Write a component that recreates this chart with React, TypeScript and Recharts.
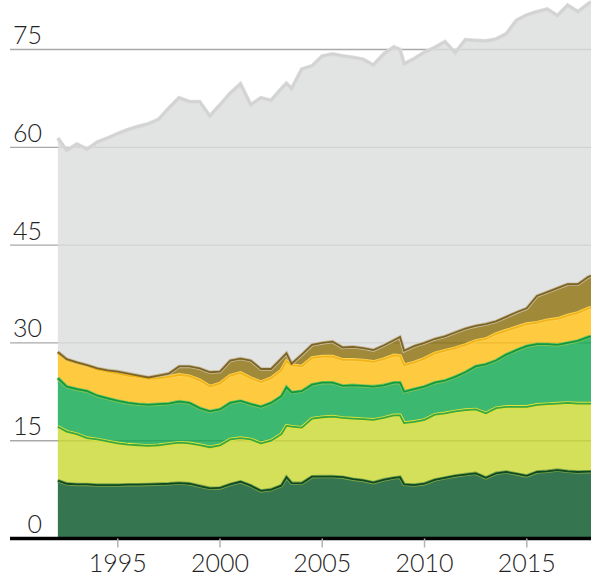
import React from 'react';
import { ComposedChart, Area, Line, XAxis, YAxis, CartesianGrid } from 'recharts';

// x positions (decimal years)
const years = [
  1992.07, 1992.5, 1993, 1993.5, 1994, 1994.5, 1995, 1995.5, 1996, 1996.5,
  1997, 1997.5, 1998, 1998.5, 1999, 1999.5, 2000, 2000.5, 2001, 2001.5,
  2002, 2002.5, 2003, 2003.25, 2003.5, 2004, 2004.5, 2005, 2005.5, 2006,
  2006.5, 2007, 2007.5, 2008, 2008.5, 2008.8, 2009, 2009.5, 2010, 2010.5,
  2011, 2011.5, 2012, 2012.5, 2013, 2013.5, 2014, 2014.5, 2015, 2015.5,
  2016, 2016.5, 2017, 2017.5, 2018, 2018.14,
];

// cumulative top of each band
const darkGreenTop = [
  8.87, 8.4, 8.3, 8.3, 8.2, 8.2, 8.2, 8.25, 8.25, 8.3,
  8.35, 8.4, 8.5, 8.4, 8.05, 7.7, 7.75, 8.3, 8.7, 8.1,
  7.3, 7.5, 8.1, 9.4, 8.5, 8.47, 9.48, 9.5, 9.5, 9.4,
  9.1, 8.9, 8.56, 9.0, 9.3, 9.4, 8.3, 8.2, 8.4, 9.0,
  9.3, 9.6, 9.8, 10.0, 9.3, 10.0, 10.2, 9.9, 9.6, 10.2,
  10.3, 10.5, 10.3, 10.2, 10.25, 10.25,
];
const limeTop = [
  17.15, 16.4, 16.0, 15.4, 15.2, 14.9, 14.6, 14.4, 14.3, 14.2,
  14.3, 14.5, 14.7, 14.6, 14.34, 14.0, 14.3, 15.2, 15.4, 15.2,
  14.6, 15.0, 16.0, 17.3, 17.15, 17.0, 18.4, 18.6, 18.7, 18.5,
  18.4, 18.3, 18.2, 18.5, 18.9, 18.9, 17.7, 17.9, 18.2, 19.0,
  19.2, 19.5, 19.7, 19.8, 19.2, 20.0, 20.2, 20.2, 20.2, 20.5,
  20.6, 20.7, 20.8, 20.7, 20.7, 20.7,
];
const greenTop = [
  24.6, 23.3, 22.9, 22.6, 21.9, 21.5, 21.1, 20.8, 20.6, 20.5,
  20.6, 20.7, 21.0, 20.8, 20.0, 19.5, 19.8, 20.8, 21.1, 20.6,
  20.2, 20.8, 21.8, 23.2, 22.4, 22.6, 23.6, 23.9, 23.9, 23.4,
  23.5, 23.4, 23.3, 23.5, 23.9, 23.9, 22.5, 22.9, 23.3, 23.9,
  24.2, 24.8, 25.5, 26.4, 26.7, 27.3, 28.2, 28.9, 29.5, 29.8,
  29.8, 29.7, 30.0, 30.3, 30.9, 31.0,
];
const yellowTop = [
  28.5, 27.4, 26.9, 26.5, 25.9, 25.6, 25.3, 25.0, 24.8, 24.5,
  24.6, 24.8, 25.1, 24.9, 24.3, 23.3, 23.8, 25.0, 25.4, 24.6,
  24.0, 24.6, 25.8, 27.2, 26.6, 26.4, 27.7, 27.9, 27.9, 27.4,
  27.4, 27.3, 27.1, 27.5, 28.1, 28.0, 26.6, 27.0, 27.6, 28.4,
  28.8, 29.2, 29.7, 30.3, 30.6, 31.4, 31.9, 32.4, 32.9, 33.1,
  33.5, 33.7, 34.2, 34.6, 35.3, 35.4,
];
const brownTop = [
  28.6, 27.5, 27.0, 26.6, 26.1, 25.8, 25.6, 25.3, 25.0, 24.7,
  25.0, 25.3, 26.4, 26.4, 26.1, 25.5, 25.6, 27.3, 27.6, 27.3,
  26.0, 26.0, 27.6, 28.4, 26.8, 28.2, 29.7, 30.0, 30.2, 29.3,
  29.4, 29.2, 28.9, 29.6, 30.4, 30.9, 28.8, 29.5, 30.0, 30.6,
  31.0, 31.6, 32.2, 32.6, 32.9, 33.3, 34.0, 34.7, 35.3, 37.2,
  37.8, 38.4, 39.0, 39.0, 40.1, 40.3,
];
const totalTop = [
  61.4, 59.5, 60.5, 59.7, 60.8, 61.4, 62.1, 62.7, 63.2, 63.6,
  64.3, 66.0, 67.6, 67.0, 67.0, 64.8, 66.5, 68.3, 69.7, 66.5,
  67.6, 67.2, 69.0, 69.8, 69.0, 72.0, 72.5, 74.0, 74.3, 74.0,
  73.8, 73.5, 72.6, 74.3, 75.4, 75.0, 72.8, 73.6, 74.6, 75.3,
  76.2, 74.5, 76.5, 76.4, 76.3, 76.6, 77.4, 79.5, 80.3, 80.8,
  81.2, 80.2, 81.8, 80.8, 82.0, 82.3,
];

const yTicks = [0, 15, 30, 45, 60, 75];
const xTicks = [1995, 2000, 2005, 2010, 2015];

const bands = [
  { key: 'b1', top: darkGreenTop, fill: '#035223', core: '#0b4a22', halo: '#7fa448' },
  { key: 'b2', top: limeTop, fill: '#c9d731', core: '#37a844', halo: '#dfe33a' },
  { key: 'b3', top: greenTop, fill: '#0da64c', core: '#0f9a42', halo: '#7dc45a' },
  { key: 'b4', top: yellowTop, fill: '#fdbd10', core: '#f2b416', halo: '#fdd256' },
  { key: 'b5', top: brownTop, fill: '#886d09', core: '#7c6524', halo: '#c8bc9e' },
  { key: 'b6', top: totalTop, fill: '#dbdcdc', core: '#d3d3d3', halo: '#dedede' },
];

const data = years.map((year, i) => {
  const row: Record<string, number> = { year };
  bands.forEach((b, j) => {
    const prev = j === 0 ? 0 : bands[j - 1].top[i];
    row[b.key] = b.top[i] - prev;
    row[b.key + 'top'] = b.top[i];
  });
  return row;
});

const FONT = 'Lato, "Open Sans", sans-serif';

const YTick = (props: any) => (
  <text x={42} y={props.y - 5.5} textAnchor="end" fontSize={25} fontWeight={300}
    fontFamily={FONT} fill="#222">
    {props.payload.value}
  </text>
);

const XTick = (props: any) => (
  <text x={props.x} y={571.5} textAnchor="middle" fontSize={25} fontWeight={300}
    fontFamily={FONT} fill="#222">
    {props.payload.value}
  </text>
);

export default function App() {
  return (
    <div style={{ position: 'absolute', left: 0, top: 0 }}>
      <ComposedChart width={591} height={576} data={data} accessibilityLayer={false}
        style={{ outline: 'none' }}
        margin={{ top: 0, right: 0, left: 9, bottom: 0 }}>
        <CartesianGrid horizontal vertical={false} horizontalValues={yTicks}
          stroke="#a9a9a9" strokeWidth={1.4} />
        <XAxis dataKey="year" type="number" domain={[1989.73, 2018.14]} ticks={xTicks}
          height={37.5} axisLine={{ stroke: '#000', strokeWidth: 3.5 }}
          tickLine={{ stroke: '#b3b3b3', strokeWidth: 1.5 }} tickSize={9} tick={<XTick />}
          interval={0} allowDataOverflow />
        <YAxis type="number" domain={[0, 82.6]} ticks={yTicks} width={1} interval={0}
          axisLine={false} tickLine={false} tick={<YTick />} allowDataOverflow />
        {bands.map((b) => (
          <Area key={b.key} type="linear" dataKey={b.key} stackId="s" fill={b.fill}
            fillOpacity={0.8} stroke="none" isAnimationActive={false} />
        ))}
        {bands.map((b) => (
          <Line key={b.key + 'h'} type="linear" dataKey={b.key + 'top'} stroke={b.halo}
            strokeWidth={b.key === 'b6' ? 4 : 3.5} dot={false} activeDot={false}
            isAnimationActive={false} />
        ))}
        {bands.map((b) => (
          <Line key={b.key + 'c'} type="linear" dataKey={b.key + 'top'} stroke={b.core}
            strokeWidth={b.key === 'b6' ? 2.5 : 1.8} dot={false} activeDot={false}
            isAnimationActive={false} />
        ))}
      </ComposedChart>
    </div>
  );
}
